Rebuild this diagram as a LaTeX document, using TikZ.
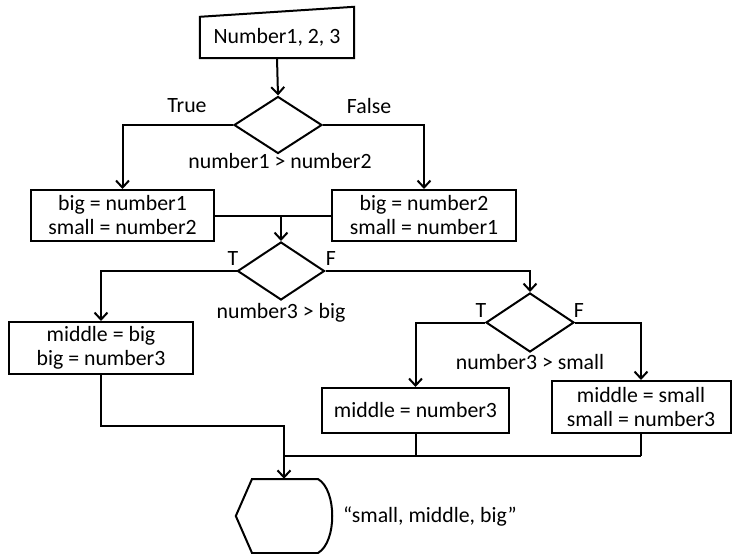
\documentclass[tikz,border=0pt]{standalone}
\usepackage{fontspec}
\setmainfont{Carlito}
\usetikzlibrary{shapes.geometric,arrows.meta,calc}
\begin{document}
\begin{tikzpicture}[x=1pt,y=-1pt,
  every node/.style={font=\fontsize{21.8}{24}\selectfont, inner sep=0pt},
  proc/.style={draw, line width=2pt, rectangle, align=center},
  dec/.style={draw, line width=2pt, diamond},
  flow/.style={line width=2pt, line join=miter},
  arr/.style={flow, -{Straight Barb[length=7pt,width=13pt,line width=2pt]}},
  lbl/.style={anchor=center}]
\useasboundingbox (0,0) rectangle (732,554);

% input (manual input)
\node (in) [minimum width=154pt, minimum height=41pt] at (277,37.5) {Number1, 2, 3};
\draw[flow] (in.south west) -- (in.north west) -- ($(in.north east)+(0,-10)$) -- (in.south east) -- cycle;

% decision 1
\node (d1) [dec, minimum width=88pt, minimum height=57pt] at (278,125) {};
\node (t1) [lbl] at (187,106) {True};
\node (f1) [lbl] at (369,106) {False};
\node (c1) [lbl] at (280,161) {number1 > number2};

\node (b1) [proc, minimum width=183pt, minimum height=51pt] at (122.5,215.5) {big = number1\\small = number2};
\node (b2) [proc, minimum width=184pt, minimum height=51pt] at (424,215.5) {big = number2\\small = number1};

% decision 2
\node (d2) [dec, minimum width=87pt, minimum height=58pt] at (281,271) {};
\node (t2) [lbl] at (233,259) {T};
\node (f2) [lbl] at (331,259) {F};
\node (c2) [lbl] at (281,313) {number3 > big};

\node (b3) [proc, minimum width=184pt, minimum height=52pt] at (101,348) {middle = big\\big = number3};

% decision 3
\node (d3) [dec, minimum width=88pt, minimum height=59pt] at (530,322.5) {};
\node (t3) [lbl] at (481,311) {T};
\node (f3) [lbl] at (579,311) {F};
\node (c3) [lbl] at (530,362) {number3 > small};

\node (b4) [proc, minimum width=187pt, minimum height=45pt] at (415.5,410.5) {middle = number3};
\node (b5) [proc, minimum width=179pt, minimum height=52pt] at (641,407) {middle = small\\small = number3};

% display
\node (disp) [minimum width=96pt, minimum height=74pt] at (284,516) {};
\draw[flow] (disp.west) -- (252,479) -- (318,479) .. controls (337,490) and (337,542) .. (318,553) -- (252,553) -- cycle;
\node (out) [anchor=west] at (343,517) {“small, middle, big”};

% connectors
\draw[arr] (in.south) -- (d1.north);
\draw[arr] (d1.west) -| (b1.north);
\draw[arr] (d1.east) -| (b2.north);
\draw[flow] (b1.east) -- (b2.west);
\coordinate (j1) at (d2.north |- b1.east);
\draw[arr] (j1) -- (d2.north);
\draw[arr] (d2.west) -| (b3.north);
\draw[arr] (d2.east) -| (d3.north);
\draw[arr] (d3.west) -| (b4.north);
\draw[arr] (d3.east) -| (b5.north);
\coordinate (k1) at (101,426);
\coordinate (k2) at (284,426);
\coordinate (m) at (284,456);
\coordinate (m4) at (b4.south |- m);
\coordinate (m5) at (b5.south |- m);
\draw[flow] (b3.south) -- (k1) -- (k2) -- (m);
\draw[flow] (b4.south) -- (m4);
\draw[flow] (b5.south) -- (m5);
\draw[flow] (m) -- (m5);
\draw[arr] (m) -- (disp.north);
\end{tikzpicture}
\end{document}
